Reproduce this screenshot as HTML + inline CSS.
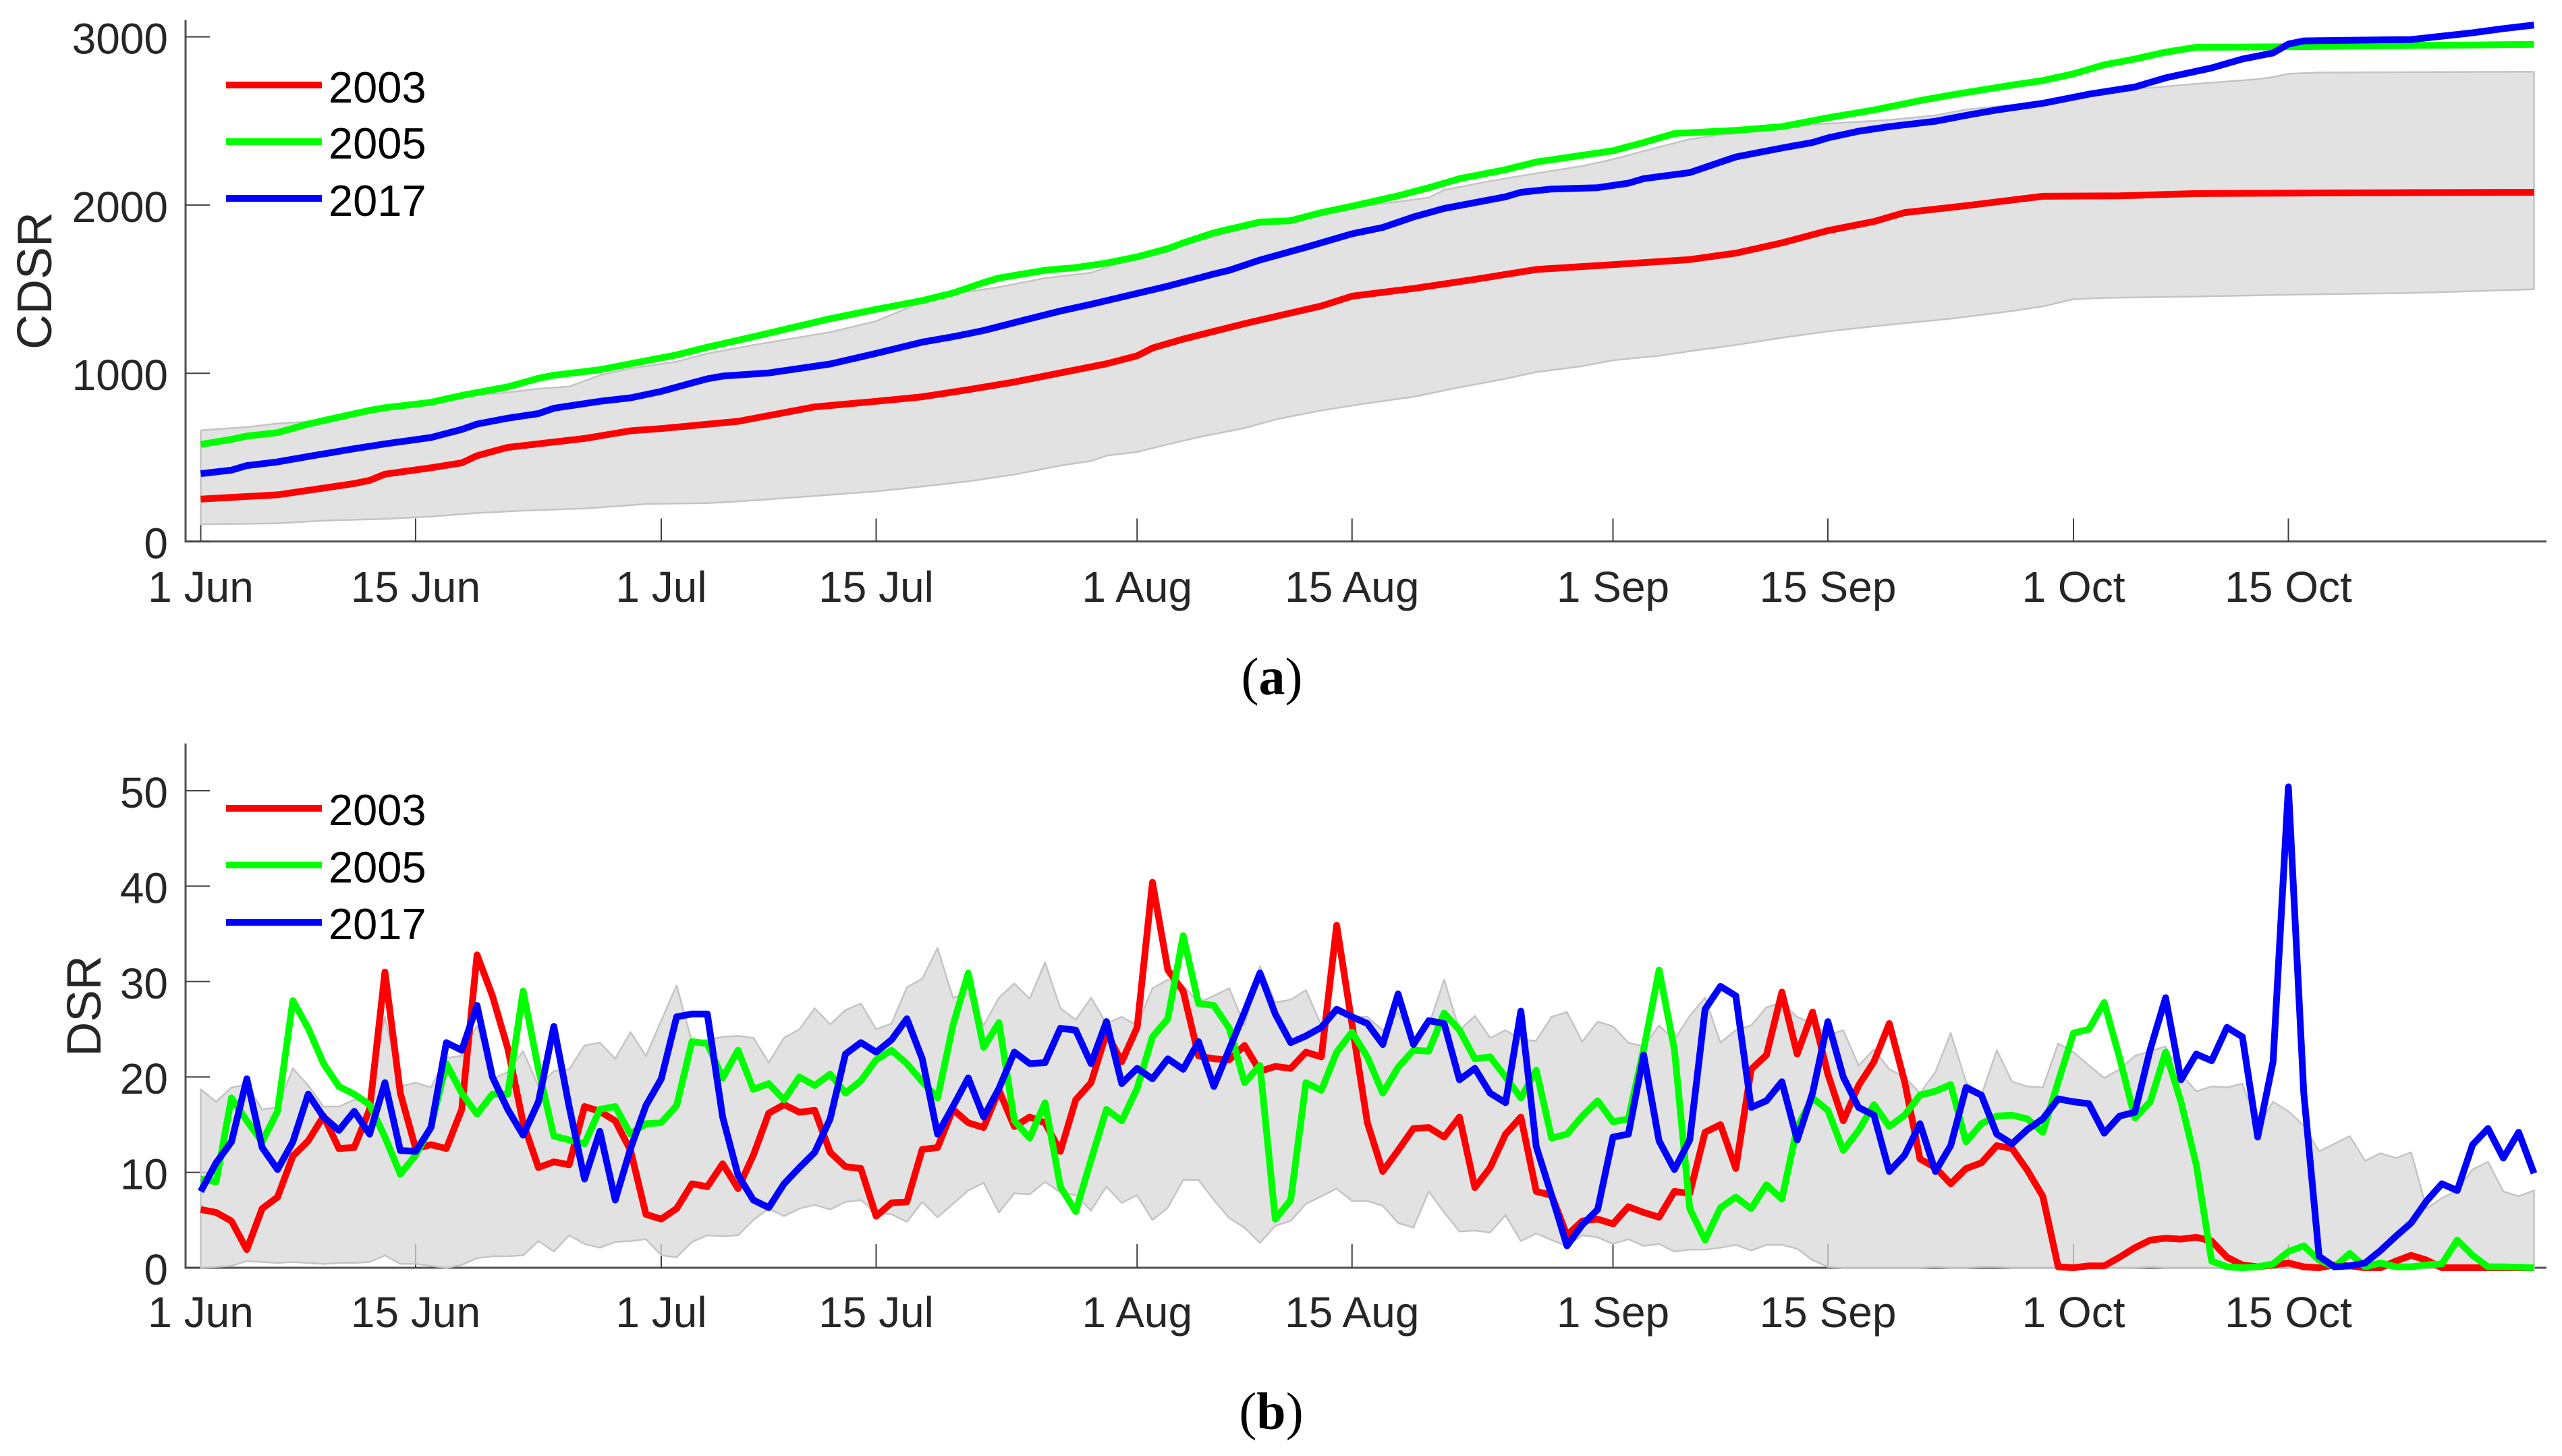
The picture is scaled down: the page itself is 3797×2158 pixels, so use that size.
<!DOCTYPE html>
<html lang="en">
<head>
<meta charset="utf-8">
<title>CDSR and DSR</title>
<style>
html,body{margin:0;padding:0;background:#fff;}
svg{display:block;}
text{font-family:"Liberation Sans",Arial,sans-serif;fill:#262626;}
.legend-label{fill:#000;font-size:65px;}
.caption{font-family:"Liberation Serif","Times New Roman",serif;font-size:78px;fill:#000;text-anchor:middle;}
.caption .bold{font-weight:bold;}
</style>
</head>
<body>
<svg id="figure" xmlns="http://www.w3.org/2000/svg" width="3797" height="2158" viewBox="0 0 3797 2158">
  <rect x="0" y="0" width="3797" height="2158" fill="#fff"/>
  <g id="panel-a"></g>
  <g id="panel-b"></g>

  <text transform="translate(76,416) rotate(-90)" text-anchor="middle" font-size="72">CDSR</text>
  <text transform="translate(149,1491) rotate(-90)" text-anchor="middle" font-size="71">DSR</text>

  <g>
    <line x1="335" x2="477" y1="126" y2="126" stroke="#ff0000" stroke-width="10"/>
    <text class="legend-label" x="487" y="152">2003</text>
    <line x1="335" x2="477" y1="210" y2="210" stroke="#00ff00" stroke-width="10"/>
    <text class="legend-label" x="487" y="235">2005</text>
    <line x1="335" x2="477" y1="294" y2="294" stroke="#0000ff" stroke-width="10"/>
    <text class="legend-label" x="487" y="320">2017</text>
  </g>
  <g>
    <line x1="335" x2="477" y1="1198" y2="1198" stroke="#ff0000" stroke-width="10"/>
    <text class="legend-label" x="487" y="1223">2003</text>
    <line x1="335" x2="477" y1="1282" y2="1282" stroke="#00ff00" stroke-width="10"/>
    <text class="legend-label" x="487" y="1308">2005</text>
    <line x1="335" x2="477" y1="1367" y2="1367" stroke="#0000ff" stroke-width="10"/>
    <text class="legend-label" x="487" y="1392">2017</text>
  </g>

  <text class="caption" x="1885" y="1029">(<tspan class="bold">a</tspan>)</text>
  <text class="caption" x="1884" y="2118">(<tspan class="bold">b</tspan>)</text>
</svg>

<script>
// X axis tick positions (days since 1 June) and labels
const xTickDays = [0, 14, 30, 44, 61, 75, 92, 106, 122, 136];
const xTickLabels = ["1 Jun", "15 Jun", "1 Jul", "15 Jul", "1 Aug", "15 Aug", "1 Sep", "15 Sep", "1 Oct", "15 Oct"];

// Panel (a): CDSR
const cdsrTicks = [0, 1000, 2000, 3000];
const cdsrDays2003 = [0,5,10,11,12,15,17,18,20,25,28,30,35,40,44,47,50,53,56,59,61,62,64,68,73,75,79,83,87,92,97,100,103,106,109,111,115,120,125,130,136,144,152];
const cdsrVals2003 = [252,277,344,363,400,438,467,510,559,612,658,671,714,800,833,860,902,948,1002,1056,1104,1150,1203,1295,1400,1458,1504,1558,1617,1646,1676,1714,1775,1848,1902,1955,1996,2052,2055,2068,2071,2074,2076];
const cdsrDays2005 = [0,2,3,5,7,9,11,12,15,17,20,22,23,26,28,31,33,36,41,44,47,49,51,52,55,57,59,61,63,64,66,69,71,73,75,78,80,82,85,87,92,94,96,100,103,106,109,112,114,118,120,122,124,126,128,130,136,145,152];
const cdsrVals2005 = [577,607,626,647,698,739,779,795,827,868,919,970,988,1021,1056,1109,1155,1217,1324,1380,1432,1477,1539,1566,1612,1628,1655,1692,1741,1775,1835,1899,1907,1955,1993,2055,2103,2157,2210,2256,2323,2372,2425,2444,2466,2519,2565,2621,2654,2713,2740,2780,2834,2868,2909,2938,2941,2949,2955];
const cdsrDays2017 = [0,2,3,5,7,10,12,15,17,18,20,22,23,26,28,30,33,34,37,41,44,47,49,51,54,56,58,60,63,66,67,69,72,75,77,79,81,85,86,88,91,93,94,97,100,103,105,106,108,110,113,115,117,120,123,126,128,131,133,135,136,137,144,148,150,152];
const cdsrVals2017 = [403,424,451,473,505,551,580,618,666,698,733,760,792,833,854,892,967,983,1002,1055,1118,1185,1217,1254,1324,1370,1410,1453,1518,1590,1612,1673,1749,1829,1867,1929,1980,2049,2076,2095,2103,2130,2157,2193,2286,2339,2372,2399,2439,2466,2498,2533,2565,2605,2659,2702,2756,2815,2868,2904,2957,2976,2984,3024,3049,3070];
const cdsrUpperDays = [0,3,5,7,10,12,17,20,22,24,26,28,31,33,36,41,44,47,49,52,55,58,61,63,65,68,70,72,74,76,80,81,84,87,90,92,95,97,99,103,105,110,113,115,117,120,125,130,134,135,136,138,152];
const cdsrUpperVals = [661,680,701,712,768,790,862,886,908,921,988,1029,1069,1117,1168,1244,1310,1424,1472,1512,1566,1598,1687,1732,1786,1861,1902,1929,1963,1996,2044,2090,2143,2189,2232,2272,2345,2392,2417,2452,2479,2506,2533,2568,2586,2613,2681,2721,2748,2761,2780,2788,2793];
const cdsrLowerDays = [0,5,8,12,15,18,21,25,28,29,33,36,41,44,46,50,53,56,58,59,61,63,65,68,70,73,76,79,82,85,87,90,92,95,97,100,103,106,110,114,118,120,122,124,130,136,144,152];
const cdsrLowerVals = [102,107,124,134,148,169,183,196,215,223,228,244,277,298,317,357,398,451,478,510,532,577,620,674,725,779,822,860,916,967,1007,1042,1077,1104,1131,1168,1211,1249,1289,1324,1370,1397,1440,1448,1456,1467,1477,1499];

// Panel (b): DSR, one value per day from 1 June to 31 October
const dsrTicks = [0, 10, 20, 30, 40, 50];
const dsr2003 = [6.1,5.8,4.9,1.9,6.2,7.4,11.7,13.3,15.9,12.5,
12.6,16.6,31,18.3,12.5,12.9,12.5,16.6,32.8,28.5,
23,15.2,10.5,11.1,10.8,16.9,16.4,15.4,12.3,5.6,
5.1,6.2,8.8,8.5,10.9,8.3,11.8,16.2,17.1,16.3,
16.5,12.1,10.6,10.4,5.4,6.8,6.9,12.4,12.6,16.6,
15.2,14.7,18.6,14.8,15.8,15.2,12.2,17.6,19.4,24.6,
21.6,25.2,40.4,31.2,29,22.2,21.9,21.8,23.3,20.6,
21.1,20.9,22.6,22.1,35.9,25.5,15.2,10.1,12.3,14.6,
14.7,13.7,15.8,8.4,10.5,14,15.8,8,7.6,3.4,
4.9,5.1,4.6,6.4,5.8,5.3,8,7.8,14.2,15,
10.4,20.8,22.3,28.9,22.4,26.8,20.3,15.4,19.1,21.6,
25.6,19.5,11.4,10.5,8.8,10.4,11,12.8,12.5,10.2,
7.5,0.1,0,0.2,0.2,1.1,2.1,2.9,3.1,3,
3.2,2.8,1.1,0.3,0.1,0.3,0.5,0.1,0,0.3,
0.2,0,0,0.7,1.3,0.8,0,0,0,0,
0,0,0];
const dsr2005 = [9.3,9,17.8,15.4,13.2,16.4,28,25.1,21.4,19,
18.2,17.1,13.7,9.8,11.8,14.8,21.4,18.3,16.1,18.2,
18.2,29,20.8,13.8,13.4,13,16.6,16.9,14,15.1,
15.2,17,23.7,23.5,19.9,22.8,18.7,19.3,17.6,20,
19.1,20.3,18.3,19.6,21.8,22.8,21.4,19.5,17.8,25.4,
30.9,23.1,25.7,15.4,13.6,17.3,8.5,5.9,11.3,16.6,
15.4,18.8,24.2,26.1,34.8,27.7,27.5,25.1,19.4,21.2,
5.1,7.1,19.4,18.6,22.6,24.7,22.1,18.3,21,22.8,
22.7,26.7,24.9,21.9,22.1,20,17.8,20.7,13.6,14,
15.9,17.5,15.3,15.6,22.9,31.2,22.9,6.2,2.9,6.3,
7.4,6.2,8.7,7.2,14.7,17.8,16.5,12.3,14.4,17.1,
14.8,16,18.1,18.5,19.2,13.2,15.1,15.9,16,15.6,
14.2,19.5,24.6,25,27.8,22,15.7,17.4,22.6,17.4,
10.8,0.7,0.1,0,0.1,0.4,1.7,2.3,0.8,0.1,
1.5,0.1,0.5,0.1,0.1,0.3,0.4,2.9,1.3,0.1,
0.1,0.05,0];
const dsr2017 = [8,11,13.2,19.8,12.6,10.3,13.2,18.2,15.8,14.4,
16.4,14,19.4,12.3,12.2,14.7,23.6,22.8,27.5,20,
16.6,13.9,17.4,25.3,16.9,9.3,14.3,7.1,12.5,17,
19.8,26.3,26.6,26.6,15.8,9.7,7.1,6.3,8.8,10.5,
12.1,15.6,22.4,23.6,22.6,23.9,26.1,21.9,14,16.9,
19.9,15.8,18.8,22.6,21.4,21.5,25.1,24.9,21.4,25.8,
19.3,20.9,19.8,21.9,20.8,23.7,19,22.9,26.8,30.9,
26.6,23.6,24.3,25.2,27.1,26.3,25.6,23.4,28.7,23.4,
25.9,25.6,19.7,20.9,18.3,17.3,26.9,12.7,7.6,2.3,
4.5,6.1,13.7,14,22.3,13.3,10.3,13.4,27.1,29.5,
28.5,16.8,17.5,19.5,13.4,18.3,25.8,20,16.8,16,
10.1,11.8,15.1,10.1,12.8,18.9,18.1,14,13,14.5,
15.6,17.7,17.4,17.2,14.1,15.9,16.3,22.9,28.3,19.7,
22.4,21.7,25.2,24.2,13.7,21.6,50.4,18.3,1.2,0.1,
0.2,0.5,1.8,3.3,4.7,7,8.8,8.1,12.9,14.6,
11.5,14.2,9.9];
const dsrUpper = [18.7,17.4,18.9,19.2,16.6,16.8,20.9,19.1,16.9,16.9,
17.6,17.6,26.3,19,19.4,18.9,22,22.2,25.4,19.8,
20.5,22.7,19,20.6,20.8,23.3,23.6,21.9,24.7,22.2,
25.9,29.6,23.7,23.9,24.2,24.3,24.1,21.5,24.1,25,
27.2,25.5,27,27.7,25,25.6,29.4,30.3,33.5,28.3,
28.8,25.4,28.3,29.8,28.2,32,27.2,26,28.3,25.6,
26.3,25.4,29.3,30.2,29.6,27.8,28.5,29.3,25.4,31.6,
27.8,28.1,29.1,25.4,26.8,26.3,26.3,24.9,26.8,23.9,
25.4,30.2,24.9,26.4,24.1,24.9,23.9,23.8,26.3,26.8,
23.7,25.8,25.3,23.6,23.2,25.4,23.9,26.4,28.3,23.6,
24.9,25.4,27.3,27.8,26.3,25.6,24.4,24.9,21.2,22.9,
20.8,20,18.3,20.5,24.6,19.5,18.1,22.8,19.5,19,
18.9,23.5,22.6,21.2,19.9,20.8,22.2,22.7,23.2,20.3,
18.5,19,18.9,19.3,14.7,17.4,16.4,14.9,12.2,13,
13.8,11.2,12,11.5,12.1,6.2,7.3,8.1,10.3,11.1,
8,7.5,8.1];
const dsrLower = [0,0.1,0.2,0.7,0.6,0.5,0.6,0.5,0.4,0.5,
0.5,0.6,1.3,0.4,0.4,0.2,0,0.3,1,1.2,
1.2,1.3,2.8,1.7,3.4,2.5,2.1,2.7,2.8,3,
1.3,1.1,2.7,3.4,3.3,3.4,5,6.2,5.4,6.2,
6.6,6.1,6.9,7.1,5.7,5.6,4.8,6.9,5.3,6.7,
8.1,8.9,5.8,7.8,7.7,9,7.9,7.6,6,8.5,
6.8,7.6,5,6.3,9.2,9.2,7.1,5.2,4.2,2.6,
4.4,4.9,6.7,7.5,8.3,7,7,6.5,4.7,4.2,
8,5.8,3.8,3.9,3.7,5.5,2.8,3.6,2.9,2.3,
3.4,3.2,2.5,3,2.3,2.5,1.7,1.9,1.9,2.1,
2.4,1.8,2.4,2.4,2,0.8,0.1,0,0,0,
0,0,0,0.1,0,0,0.1,0.1,0,0,
0,0,0,0.1,0,0,0,0.1,0,0,
0,0,0,0,0,0,0,0,0,0,
0,0,0,0,0,0,0,0,0,0,
0,0,0];

const NS = "http://www.w3.org/2000/svg";
const X0 = 297.5, PX_PER_DAY = 22.75, AXIS_LEFT = 275, AXIS_RIGHT = 3774;
function xScale(day) { return X0 + PX_PER_DAY * day; }
function topY(v) { return 802.5 - v * 0.2493; }
function botY(v) { return 1879 - v * 14.14; }
function dailyIndex(values) { return values.map(function (_, i) { return i; }); }
function toPoints(days, values, yFn) {
  return days.map(function (d, i) { return xScale(d).toFixed(1) + "," + yFn(values[i]).toFixed(1); });
}

function drawAxes(parent, yFn, yTicks, axisTop, axisBottom, labelOffset, tickLength) {
  const yAxis = document.createElementNS(NS, "line");
  
  
  yAxis.setAttribute("x1", AXIS_LEFT); yAxis.setAttribute("x2", AXIS_LEFT);
  yAxis.setAttribute("y1", axisTop); yAxis.setAttribute("y2", axisBottom + 1.5);
  yAxis.setAttribute("stroke", "#505050"); yAxis.setAttribute("stroke-width", "3");
  parent.appendChild(yAxis);

  const xAxis = document.createElementNS(NS, "line");
  
  
  xAxis.setAttribute("x1", AXIS_LEFT); xAxis.setAttribute("x2", AXIS_RIGHT);
  xAxis.setAttribute("y1", axisBottom); xAxis.setAttribute("y2", axisBottom);
  xAxis.setAttribute("stroke", "#505050"); xAxis.setAttribute("stroke-width", "3");
  parent.appendChild(xAxis);

  yTicks.forEach(function (v) {
    const t = document.createElementNS(NS, "line");
    
    
    t.setAttribute("x1", AXIS_LEFT); t.setAttribute("x2", AXIS_LEFT + 36);
    t.setAttribute("y1", yFn(v)); t.setAttribute("y2", yFn(v));
    t.setAttribute("stroke", "#404040"); t.setAttribute("stroke-width", "2");
    parent.appendChild(t);

    const lab = document.createElementNS(NS, "text");
    
    
    lab.setAttribute("x", 249); lab.setAttribute("y", yFn(v) + 25);
    lab.setAttribute("text-anchor", "end"); lab.setAttribute("font-size", "64");
    lab.textContent = String(v);
    parent.appendChild(lab);
  });

  xTickDays.forEach(function (d, i) {
    const t = document.createElementNS(NS, "line");
    
    
    t.setAttribute("x1", xScale(d)); t.setAttribute("x2", xScale(d));
    t.setAttribute("y1", axisBottom - tickLength); t.setAttribute("y2", axisBottom);
    t.setAttribute("stroke", "#404040"); t.setAttribute("stroke-width", "2");
    parent.appendChild(t);

    const lab = document.createElementNS(NS, "text");
    
    
    lab.setAttribute("x", xScale(d)); lab.setAttribute("y", axisBottom + labelOffset);
    lab.setAttribute("text-anchor", "middle"); lab.setAttribute("font-size", "64");
    lab.textContent = xTickLabels[i];
    parent.appendChild(lab);
  });
}

function drawBand(parent, upperDays, upperVals, lowerDays, lowerVals, yFn) {
  const upperPts = toPoints(upperDays, upperVals, yFn);
  const lowerPts = toPoints(lowerDays, lowerVals, yFn).reverse();
  const band = document.createElementNS(NS, "polygon");
  
  
  band.setAttribute("points", upperPts.concat(lowerPts).join(" "));
  band.setAttribute("fill", "#d8d8d8");
  band.setAttribute("fill-opacity", "0.75");
  band.setAttribute("stroke", "#c4c4c4");
  band.setAttribute("stroke-width", "2.5");
  band.setAttribute("stroke-linejoin", "round");
  parent.appendChild(band);
}

function drawLine(parent, name, days, values, yFn, color) {
  const line = document.createElementNS(NS, "polyline");
  
  
  line.setAttribute("points", toPoints(days, values, yFn).join(" "));
  line.setAttribute("fill", "none");
  line.setAttribute("stroke", color);
  line.setAttribute("stroke-width", "10");
  line.setAttribute("stroke-linejoin", "round");
  parent.appendChild(line);
}

const panelA = document.getElementById("panel-a");
drawAxes(panelA, topY, cdsrTicks, 30, 802.5, 89.5, 34);
drawBand(panelA, cdsrUpperDays, cdsrUpperVals, cdsrLowerDays, cdsrLowerVals, topY);
drawLine(panelA, "cdsr-line-2003", cdsrDays2003, cdsrVals2003, topY, "#ff0000");
drawLine(panelA, "cdsr-line-2005", cdsrDays2005, cdsrVals2005, topY, "#00ff00");
drawLine(panelA, "cdsr-line-2017", cdsrDays2017, cdsrVals2017, topY, "#0000ff");

const panelB = document.getElementById("panel-b");
drawAxes(panelB, botY, dsrTicks, 1102, 1879, 88, 35);
drawBand(panelB, dailyIndex(dsrUpper), dsrUpper, dailyIndex(dsrLower), dsrLower, botY);
drawLine(panelB, "dsr-line-2003", dailyIndex(dsr2003), dsr2003, botY, "#ff0000");
drawLine(panelB, "dsr-line-2005", dailyIndex(dsr2005), dsr2005, botY, "#00ff00");
drawLine(panelB, "dsr-line-2017", dailyIndex(dsr2017), dsr2017, botY, "#0000ff");
</script>
</body>
</html>
